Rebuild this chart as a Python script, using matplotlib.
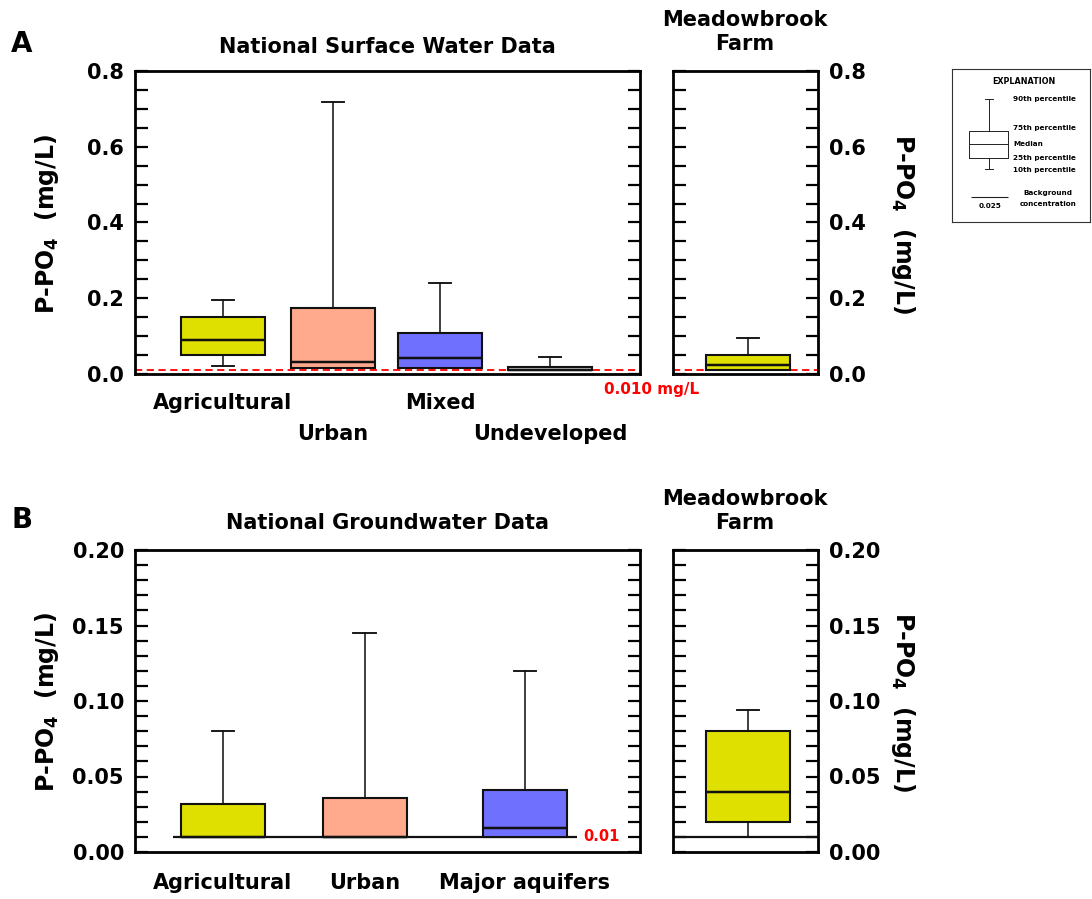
import matplotlib
matplotlib.use("Agg")
import matplotlib.pyplot as plt
from matplotlib.ticker import MultipleLocator

plt.rcParams['font.family'] = 'DejaVu Sans'
plt.rcParams['font.weight'] = 'bold'
plt.rcParams['mathtext.fontset'] = 'dejavusans'

W, H = 1092, 899

# ---- data (percentiles, mg/L) ----
surface_labels = ["Agricultural", "Urban", "Mixed", "Undeveloped"]
surface_p10 = [0.021, 0.017, 0.017, 0.0105]
surface_p25 = [0.050, 0.017, 0.017, 0.0105]
surface_med = [0.091, 0.033, 0.042, 0.0105]
surface_p75 = [0.150, 0.175, 0.108, 0.0175]
surface_p90 = [0.195, 0.717, 0.241, 0.046]
surface_colors = ["#e0e000", "#ffaa8c", "#7070ff", "#d9d9d9"]
surface_background = 0.010

farm_surface = [0.010, 0.010, 0.025, 0.050, 0.094]   # p10, p25, med, p75, p90

ground_labels = ["Agricultural", "Urban", "Major aquifers"]
ground_p10 = [0.010, 0.010, 0.010]
ground_p25 = [0.010, 0.010, 0.010]
ground_med = [0.010, 0.010, 0.016]
ground_p75 = [0.032, 0.036, 0.041]
ground_p90 = [0.080, 0.145, 0.120]
ground_colors = ["#e0e000", "#ffaa8c", "#7070ff"]
ground_background = 0.01

farm_ground = [0.010, 0.020, 0.040, 0.080, 0.094]
farm_color = "#e0e000"

ylabel = r"P-PO$_\mathbf{4}$  (mg/L)"


def px_rect(x0, y0, x1, y1):
    return [x0 / W, 1 - y1 / H, (x1 - x0) / W, (y1 - y0) / H]


def draw_boxes(ax, p10, p25, med, p75, p90, pos, colors, width, lw=1.5):
    stats = [dict(whislo=a, q1=b, med=c, q3=d, whishi=e, fliers=[])
             for a, b, c, d, e in zip(p10, p25, med, p75, p90)]
    bp = ax.bxp(stats, positions=pos, widths=width, capwidths=width * 0.27,
                patch_artist=True, showfliers=False, manage_ticks=False,
                boxprops=dict(linewidth=lw, edgecolor='#111111'),
                medianprops=dict(color='#111111', linewidth=lw * 1.2),
                whiskerprops=dict(color='#111111', linewidth=lw * 0.75),
                capprops=dict(color='#111111', linewidth=lw * 0.9), zorder=3)
    for patch, c in zip(bp['boxes'], colors):
        patch.set_facecolor(c)
    return bp


def style(ax, ymax, major, minor, side):
    ax.set_xlim(0, 1)
    ax.set_ylim(0, ymax)
    ax.yaxis.set_major_locator(MultipleLocator(major))
    ax.yaxis.set_minor_locator(MultipleLocator(minor))
    ax.tick_params(axis='y', which='both', direction='in', left=True, right=True,
                   length=9, width=1.6, labelsize=15, pad=8,
                   labelleft=(side == 'left'), labelright=(side == 'right'))
    ax.tick_params(axis='x', which='both', bottom=False, labelbottom=False)
    for s in ax.spines.values():
        s.set_linewidth(2)


fig = plt.figure(figsize=(W / 100, H / 100), dpi=100)

axA = fig.add_axes(px_rect(135, 71, 640, 374))
axA2 = fig.add_axes(px_rect(673, 71, 818, 374))
axB = fig.add_axes(px_rect(135, 550, 640, 852))
axB2 = fig.add_axes(px_rect(673, 550, 818, 852))

main_w = 0.166
farm_pos, farm_w = 0.517, 0.579
posA = [0.174, 0.392, 0.604, 0.822]
posB = [0.174, 0.455, 0.772]

# ---- panel A ----
style(axA, 0.8, 0.2, 0.05, 'left')
style(axA2, 0.8, 0.2, 0.05, 'right')
draw_boxes(axA, surface_p10, surface_p25, surface_med, surface_p75, surface_p90,
           posA, surface_colors, main_w)
draw_boxes(axA2, *[[v] for v in farm_surface], [farm_pos], [farm_color], farm_w)
for ax in (axA, axA2):
    ax.axhline(surface_background, color='red', linestyle=(0, (4, 2.5)), lw=1.3, zorder=2)

rows = [-0.096, -0.198]
for i, (p, lab) in enumerate(zip(posA, surface_labels)):
    axA.text(p, rows[i % 2], lab, transform=axA.get_xaxis_transform(),
             ha='center', va='center', fontsize=15)

# ---- panel B ----
style(axB, 0.2, 0.05, 0.01, 'left')
style(axB2, 0.2, 0.05, 0.01, 'right')
axB.hlines(ground_background, 0.075, 0.875, color='#111111', lw=1.6, zorder=2)
axB2.axhline(ground_background, color='#111111', lw=1.6, zorder=2)
draw_boxes(axB, ground_p10, ground_p25, ground_med, ground_p75, ground_p90,
           posB, ground_colors, main_w)
draw_boxes(axB2, *[[v] for v in farm_ground], [farm_pos], [farm_color], farm_w)
axB.text(0.887, ground_background, f"{ground_background:.2f}", color='red',
         fontsize=10.5, ha='left', va='center')
for p, lab in zip(posB, ground_labels):
    axB.text(p, -0.103, lab, transform=axB.get_xaxis_transform(),
             ha='center', va='center', fontsize=15)


def ftext(x, y, s, **kw):
    kw.setdefault('ha', 'center')
    kw.setdefault('va', 'center')
    return fig.text(x / W, 1 - y / H, s, **kw)


ftext(652, 390, f"{surface_background:.3f} mg/L", color='red', fontsize=11)

ftext(22, 44, "A", fontsize=20)
ftext(22, 520, "B", fontsize=20)
ftext(387, 47, "National Surface Water Data", fontsize=15)
ftext(387, 523, "National Groundwater Data", fontsize=15)
ftext(745, 32, "Meadowbrook\nFarm", fontsize=15, linespacing=1.3)
ftext(745, 511, "Meadowbrook\nFarm", fontsize=15, linespacing=1.3)

for yc in (224, 702):
    ftext(47, yc, ylabel, fontsize=17, rotation=90)
    ftext(903, yc, ylabel, fontsize=17, rotation=270)

# ---- explanation key ----
axL = fig.add_axes(px_rect(952, 69, 1090, 222))
axL.set_xlim(0, 138)
axL.set_ylim(0, 153)
axL.set_xticks([])
axL.set_yticks([])
for s in axL.spines.values():
    s.set_linewidth(0.8)
    s.set_color('#333333')
key = dict(whislo=53, q1=64, med=78, q3=91, whishi=123, fliers=[])
axL.bxp([key], positions=[36.5], widths=39, capwidths=8, showfliers=False,
        manage_ticks=False,
        boxprops=dict(linewidth=0.7, color='#222222'),
        medianprops=dict(linewidth=0.7, color='#222222'),
        whiskerprops=dict(linewidth=0.7, color='#222222'),
        capprops=dict(linewidth=0.7, color='#222222'))
axL.hlines(25, 19, 56, color='#222222', lw=0.8)
kfs = 5.2
axL.text(71.5, 140, "EXPLANATION", ha='center', va='center', fontsize=5.8)
for y, s in [(123, "90th percentile"), (94, "75th percentile"), (78, "Median"),
             (64, "25th percentile"), (52, "10th percentile")]:
    axL.text(61, y, s, ha='left', va='center', fontsize=kfs)
axL.text(38, 16, "0.025", ha='center', va='center', fontsize=kfs)
axL.text(96, 29, "Background", ha='center', va='center', fontsize=kfs)
axL.text(96, 18, "concentration", ha='center', va='center', fontsize=kfs)

fig.savefig("out.png", dpi=100)
